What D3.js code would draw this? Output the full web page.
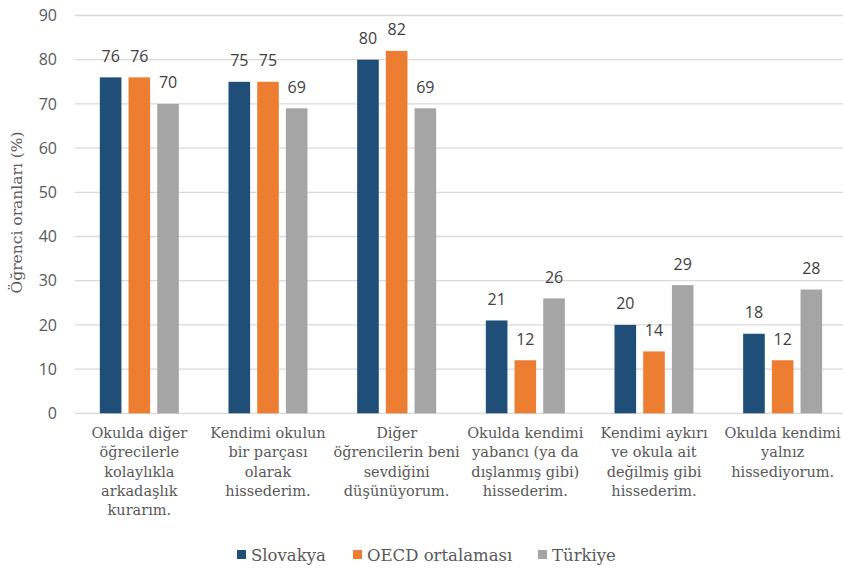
<!DOCTYPE html>
<html><head><meta charset="utf-8">
<script src="https://cdn.jsdelivr.net/npm/d3@7"></script>
<style>body{margin:0;background:#fff}</style>
</head><body><svg id="c" width="843" height="570"></svg>
<script>
const categories = [
  ["Okulda diğer","öğrecilerle","kolaylıkla","arkadaşlık","kurarım."],
  ["Kendimi okulun","bir parçası","olarak","hissederim."],
  ["Diğer","öğrencilerin beni","sevdiğini","düşünüyorum."],
  ["Okulda kendimi","yabancı (ya da","dışlanmış gibi)","hissederim."],
  ["Kendimi aykırı","ve okula ait","değilmiş gibi","hissederim."],
  ["Okulda kendimi","yalnız","hissediyorum."]
];
const seriesNames = ["Slovakya","OECD ortalaması","Türkiye"];
const slovakya = [76,75,80,21,20,18];
const oecd = [76,75,82,12,14,12];
const turkiye = [70,69,69,26,29,28];
const yTicks = [0,10,20,30,40,50,60,70,80,90];
const yTitle = "Öğrenci oranları (%)";

const colors = ["#1F4E79","#ED7D31","#A5A5A5"];
const values = [slovakya, oecd, turkiye];
const serif = "'DejaVu Serif', serif";
const sans = "'Open Sans', 'Noto Sans', sans-serif";

const svg = d3.select("#c");
const pL = 75, pR = 847, pT = 15.5, pB = 413.3;
const y = d3.scaleLinear().domain([0,90]).range([pB, pT]);
const x0 = d3.scaleBand().domain(d3.range(categories.length)).range([pL, pR]).padding(0);
const step = x0.bandwidth();
const x1 = d3.scaleBand().domain(d3.range(3)).range([step*0.193, step*0.807]).paddingInner(0.247).paddingOuter(0);

// gridlines
svg.append("g").selectAll("line").data(yTicks).join("line")
  .attr("x1", pL).attr("x2", pR)
  .attr("y1", d=>y(d)).attr("y2", d=>y(d))
  .attr("stroke", "#D9D9D9").attr("stroke-width", 1.3);

// y axis labels
const yAxis = d3.axisLeft(y).tickValues(yTicks).tickSize(0).tickPadding(0);
const ga = svg.append("g").attr("transform", `translate(57,0)`).call(yAxis);
ga.select(".domain").remove();
ga.selectAll("text").attr("font-family", sans).attr("font-size", 16).attr("fill", "#595959");

// bars
const groups = svg.append("g").selectAll("g").data(categories).join("g")
  .attr("transform", (d,i)=>`translate(${x0(i)},0)`);
groups.each(function(_, ci){
  const g = d3.select(this);
  const rows = values.map((arr, si)=>({si, v: arr[ci]}));
  g.selectAll("rect").data(rows).join("rect")
    .attr("x", d=>x1(d.si)).attr("width", x1.bandwidth())
    .attr("y", d=>y(d.v)).attr("height", d=>y(0)-y(d.v))
    .attr("fill", d=>colors[d.si]);
  g.selectAll("text.v").data(rows).join("text").attr("class","v")
    .attr("x", d=>x1(d.si)+x1.bandwidth()/2)
    .attr("y", d=>y(d.v)-15.5)
    .attr("text-anchor","middle")
    .attr("font-family", sans).attr("font-size", 16).attr("fill","#404040")
    .text(d=>d.v);
  const t = g.append("text").attr("text-anchor","middle")
    .attr("font-family", serif).attr("font-size", 14.5).attr("fill","#595959");
  t.selectAll("tspan").data(d=>d).join("tspan")
    .attr("x", step/2).attr("y", (d,i)=>438+i*19.3).text(d=>d);
});

// y title
svg.append("text")
  .attr("transform", `translate(22,${(pT+pB)/2 - 2}) rotate(-90)`)
  .attr("text-anchor","middle")
  .attr("font-family", serif).attr("font-size", 15.5).attr("fill","#595959")
  .text(yTitle);

// legend
const legendX = [237, 353, 538];
const lg = svg.append("g").selectAll("g").data(seriesNames).join("g")
  .attr("transform",(d,i)=>`translate(${legendX[i]},555)`);
lg.append("rect").attr("x",0).attr("y",-5).attr("width",9).attr("height",9)
  .attr("fill",(d,i)=>colors[i]);
lg.append("text").attr("x",14).attr("y",5.5)
  .attr("font-family", serif).attr("font-size",16.5).attr("fill","#595959")
  .text(d=>d);
</script></body></html>
